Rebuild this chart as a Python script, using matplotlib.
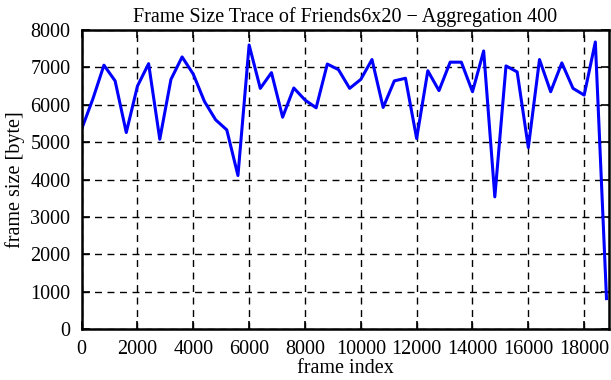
import numpy as np
import matplotlib
matplotlib.use("Agg")
from matplotlib import pyplot as plt

# frame index (aggregation 400) and aggregated frame size in bytes
frame_index = list(range(0, 18801, 400))
frame_size = [5350, 6150, 7060, 6640, 5260, 6500, 7100, 5080, 6680, 7280,
              6820, 6090, 5600, 5330, 4110, 7600, 6440, 6860, 5670, 6450,
              6130, 5920, 7090, 6940, 6440, 6680, 7210, 5930, 6640, 6710,
              5100, 6910, 6380, 7140, 7140, 6350, 7440, 3540, 7040, 6880,
              4860, 7210, 6350, 7120, 6440, 6260, 7680, 820]
xticks = list(range(0, 18001, 2000))
yticks = list(range(0, 8001, 1000))

plt.rcParams['font.family'] = ['Liberation Serif', 'DejaVu Serif']
plt.rcParams['font.size'] = 14.5

fig = plt.figure(figsize=(6.11, 3.80), dpi=100)
ax = fig.add_axes([81.6/611, 1-329.3/380, (609.3-81.6)/611, (329.3-30)/380])

ax.plot(frame_index, frame_size, color='#0000ff', lw=2.2)
ax.set_xlim(0, 18900)
ax.set_ylim(0, 8000)
ax.set_xticks(xticks)
ax.set_yticks(yticks)
ax.grid(True, color='black', linestyle=(0, (5, 4)), lw=1)
ax.tick_params(direction='in', length=6, width=1.2, top=True, right=True, pad=8)
for s in ax.spines.values():
    s.set_linewidth(1.8)

ax.set_title('Frame Size Trace of Friends6x20 \u2212 Aggregation 400', fontsize=14.5, pad=6)
ax.set_xlabel('frame index', labelpad=0)
ax.set_ylabel('frame size [byte]', labelpad=4)

fig.savefig('out.png', dpi=100)
